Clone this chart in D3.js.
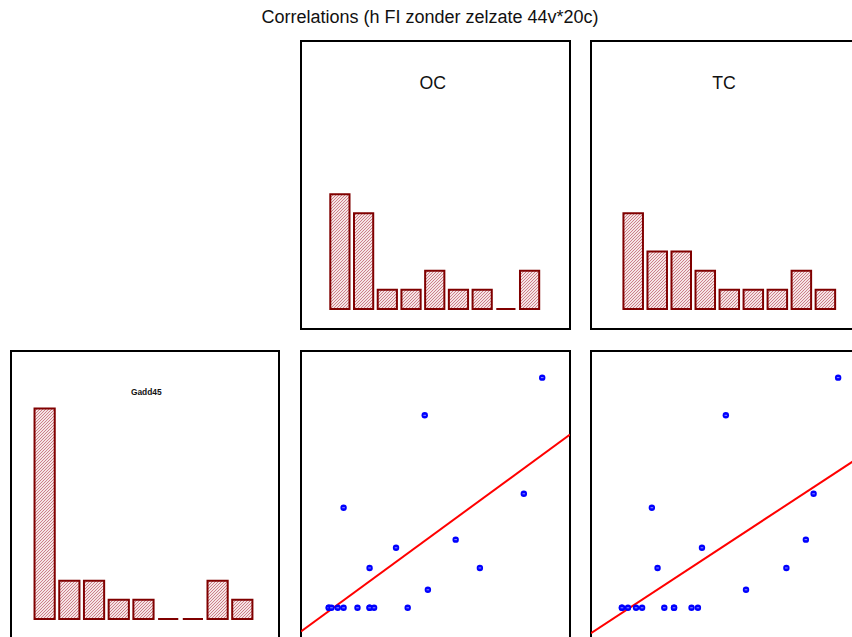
<!DOCTYPE html>
<html>
<head>
<meta charset="utf-8">
<script src="https://cdn.jsdelivr.net/npm/d3@7"></script>
<style>
  html, body { margin: 0; padding: 0; background: #fff; }
  svg { display: block; font-family: "Liberation Sans", Arial, sans-serif; }
</style>
</head>
<body>
<svg id="chart" width="852" height="637"></svg>
<script>
// Measurements per sampling site (null = not measured)
const siteOC     = [5.38, 2.76, 4.97, 0.95, 3.45, 2.12, 1.53, 3.99, 2.83, 0.62, 0.62, 0.68, 0.82, 0.95, 1.26, 1.53, 1.53, 1.63, 2.38, null];
const siteTC     = [7.35, 4.01, 6.62, 1.81, 6.39, 3.30, 1.98, 5.81, 4.61, 0.92, 0.92, 1.10, 1.34, 1.52, 2.18, 2.47, 2.47, 2.99, 3.18, null];
const siteGadd45 = [10.89, 9.32, 6.05, 5.47, 4.14, 3.80, 2.96, 2.96, 2.05, 1.30, 1.30, 1.30, 1.30, 1.30, 1.30, 1.30, 1.30, 1.30, 1.30, 9.32];

const variableNames = ["Gadd45", "OC", "TC"];
const titleText = "Correlations (h FI zonder zelzate 44v*20c)";

// Axis domains used when a variable runs horizontally / vertically
const domainH = { OC: [0, 6], TC: [0, 8], Gadd45: [0.35, 11.95] };
const domainV = { Gadd45: [0, 12] };
const histBinCount = 9;
const histCountDomain = [0, 14];

const values = { OC: siteOC, TC: siteTC, Gadd45: siteGadd45 };

// Matrix layout
const cellW = 269, cellH = 288;
const colX = [11, 301, 591];
const rowY = [41, 351];

const svg = d3.select("#chart");
const defs = svg.append("defs");

const hatch = defs.append("pattern")
  .attr("id", "hatch")
  .attr("patternUnits", "userSpaceOnUse")
  .attr("width", 3).attr("height", 3);
hatch.append("rect").attr("width", 3).attr("height", 3).attr("fill", "#f5e4e4");
hatch.append("path")
  .attr("d", "M-1,1 L1,-1 M0,3 L3,0 M2,4 L4,2")
  .attr("stroke", "#cc7f8a").attr("stroke-width", 1);

svg.append("text")
  .attr("x", 430).attr("y", 17)
  .attr("text-anchor", "middle").attr("dominant-baseline", "central")
  .attr("font-size", 18).attr("fill", "#111")
  .text(titleText);

function panelFrame(g, w) {
  g.append("rect")
    .attr("x", 0).attr("y", 0).attr("width", w).attr("height", cellH)
    .attr("fill", "#fff").attr("stroke", "#000").attr("stroke-width", 2);
}

function histogramPanel(g, name, labelSize, labelBold, labelX, w) {
  panelFrame(g, w);
  const data = values[name].filter(v => v != null);
  const ext = d3.extent(data);
  const step = (ext[1] - ext[0]) / histBinCount;
  const thresholds = d3.range(1, histBinCount).map(i => ext[0] + i * step);
  const bins = d3.bin().domain(ext).thresholds(thresholds)(data);

  const x = d3.scaleLinear().domain(domainH[name]).range([0, cellW]);
  const y = d3.scaleLinear().domain(histCountDomain).range([268, 0]);

  g.selectAll("path.bar").data(bins).join("path")
    .attr("class", "bar")
    .attr("d", b => {
      const x0 = x(b.x0) + 1.5, x1 = x(b.x1) - 3, y0 = y(0), y1 = y(b.length);
      return `M${x0},${y0}H${x1}V${y1}H${x0}Z`;
    })
    .attr("fill", "url(#hatch)")
    .attr("stroke", "#800000").attr("stroke-width", 2);

  g.append("text")
    .attr("x", labelX).attr("y", labelBold ? 41 : 42)
    .attr("text-anchor", "middle").attr("dominant-baseline", "central")
    .attr("font-size", labelSize).attr("font-weight", labelBold ? "bold" : "normal")
    .attr("fill", "#111")
    .text(name);
}

function scatterPanel(g, xName, yName, clipId) {
  panelFrame(g, cellW);
  const x = d3.scaleLinear().domain(domainH[xName]).range([0, cellW]);
  const y = d3.scaleLinear().domain(domainV[yName]).range([cellH, 0]);
  const pts = values[xName].map((v, i) => [v, values[yName][i]])
    .filter(p => p[0] != null && p[1] != null);

  // least-squares fit of y on x
  const mx = d3.mean(pts, p => p[0]), my = d3.mean(pts, p => p[1]);
  const sxy = d3.sum(pts, p => (p[0] - mx) * (p[1] - my));
  const sxx = d3.sum(pts, p => (p[0] - mx) ** 2);
  const slope = sxy / sxx, icpt = my - slope * mx;

  defs.append("clipPath").attr("id", clipId)
    .append("rect").attr("width", cellW).attr("height", cellH);

  const dom = x.domain();
  g.append("line")
    .attr("clip-path", `url(#${clipId})`)
    .attr("x1", x(dom[0])).attr("y1", y(icpt + slope * dom[0]))
    .attr("x2", x(dom[1])).attr("y2", y(icpt + slope * dom[1]))
    .attr("stroke", "#ff0000").attr("stroke-width", 2);

  const dots = g.selectAll("g.dot").data(pts).join("g")
    .attr("class", "dot")
    .attr("transform", p => `translate(${x(p[0])},${y(p[1])})`);
  dots.append("circle").attr("r", 3.2).attr("fill", "#0000ff");
  dots.append("line").attr("x1", -1.3).attr("x2", 1.3)
    .attr("stroke", "#b8b8ff").attr("stroke-width", 0.8);
}

const gOC = svg.append("g").attr("transform", `translate(${colX[1]},${rowY[0]})`);
histogramPanel(gOC, "OC", 17.7, false, 131.7, cellW);

const gTC = svg.append("g").attr("transform", `translate(${colX[2]},${rowY[0]})`);
histogramPanel(gTC, "TC", 17.7, false, 133, cellW);

const gG = svg.append("g").attr("transform", `translate(${colX[0]},${rowY[1]})`);
histogramPanel(gG, "Gadd45", 8.4, true, 135.3, cellW - 1);

const gS1 = svg.append("g").attr("transform", `translate(${colX[1]},${rowY[1]})`);
scatterPanel(gS1, "OC", "Gadd45", "clipOC");

const gS2 = svg.append("g").attr("transform", `translate(${colX[2]},${rowY[1]})`);
scatterPanel(gS2, "TC", "Gadd45", "clipTC");
</script>
</body>
</html>
